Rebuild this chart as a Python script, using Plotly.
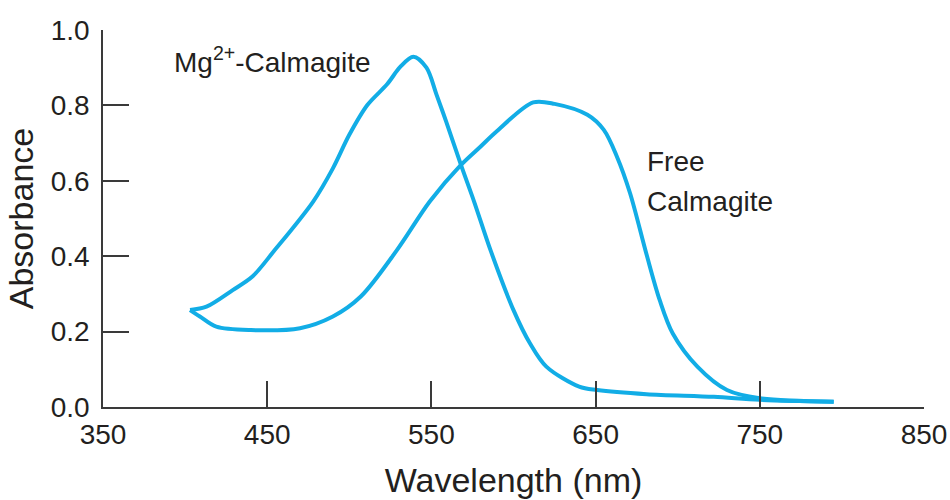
import plotly.graph_objects as go

# Mg2+-Calmagite spectrum (wavelength nm, absorbance)
mg_wavelength = [403, 413, 429, 441, 454, 478, 490, 500, 511, 523, 531, 539, 547, 553, 559,
                 568, 576, 586, 600, 610, 620, 640, 651, 681, 722, 750, 795]
mg_absorbance = [0.257, 0.266, 0.310, 0.346, 0.413, 0.545, 0.633, 0.722, 0.801, 0.856, 0.902,
                 0.929, 0.900, 0.830, 0.757, 0.642, 0.545, 0.416, 0.257, 0.169, 0.107, 0.054,
                 0.045, 0.034, 0.027, 0.019, 0.014]

# Free Calmagite spectrum
free_wavelength = [403, 409, 419, 440, 470, 490, 507, 529, 549, 568, 580, 590, 612, 625, 645,
                   655, 663, 671, 681, 689, 697, 712, 730, 750, 795]
free_absorbance = [0.257, 0.240, 0.213, 0.204, 0.209, 0.240, 0.293, 0.416, 0.545, 0.642,
                   0.691, 0.732, 0.808, 0.804, 0.775, 0.735, 0.664, 0.567, 0.405, 0.284,
                   0.195, 0.107, 0.045, 0.023, 0.014]

x_ticks = [350, 450, 550, 650, 750, 850]
y_ticks = [0.0, 0.2, 0.4, 0.6, 0.8, 1.0]

LINE = "#12ADE6"
TXT = "#231F20"
AX = "#3a3a3a"
FONT = "Liberation Sans, Arial, sans-serif"
FS = 28

fig = go.Figure()
fig.add_trace(go.Scatter(x=mg_wavelength, y=mg_absorbance, mode="lines",
                         line=dict(color=LINE, width=4, shape="spline", smoothing=0.9),
                         name="Mg2+-Calmagite", showlegend=False))
fig.add_trace(go.Scatter(x=free_wavelength, y=free_absorbance, mode="lines",
                         line=dict(color=LINE, width=4, shape="spline", smoothing=0.9),
                         name="Free Calmagite", showlegend=False))

fig.add_annotation(x=392, y=0.92, xref="x", yref="y", text="Mg<sup>2+</sup>-Calmagite",
                   showarrow=False, xanchor="left", yanchor="middle",
                   font=dict(size=FS, color=TXT, family=FONT))
fig.add_annotation(x=680, y=0.65, xref="x", yref="y", text="Free",
                   showarrow=False, xanchor="left", yanchor="middle",
                   font=dict(size=FS, color=TXT, family=FONT))
fig.add_annotation(x=680, y=0.545, xref="x", yref="y", text="Calmagite",
                   showarrow=False, xanchor="left", yanchor="middle",
                   font=dict(size=FS, color=TXT, family=FONT))

fig.update_layout(
    width=950, height=500,
    margin=dict(l=103, r=26, t=30, b=93),
    paper_bgcolor="white", plot_bgcolor="white",
    font=dict(family=FONT, size=FS, color=TXT),
    xaxis=dict(range=[350, 850], tickvals=x_ticks, ticktext=[str(v) for v in x_ticks],
               ticks="inside", ticklen=26, tickwidth=1.5, tickcolor=AX,
               showline=True, linecolor=AX, linewidth=1.5, showgrid=False, zeroline=False,
               ticklabelstandoff=2,
               title=dict(text="Wavelength (nm)", standoff=19),
               automargin=False),
    yaxis=dict(range=[0, 1.0], tickvals=y_ticks, ticktext=[f"{v:.1f}" for v in y_ticks],
               ticks="inside", ticklen=26, tickwidth=1.5, tickcolor=AX,
               showline=True, linecolor=AX, linewidth=1.5, showgrid=False, zeroline=False,
               ticklabelstandoff=6,
               title=dict(text="Absorbance", standoff=7),
               automargin=False),
)

# remove the default 8px page margin so the 950x500 figure fills the window exactly
fig.write_html("out.html", config={"displayModeBar": False},
               post_script="document.body.style.margin='0';document.body.style.overflow='hidden';")
